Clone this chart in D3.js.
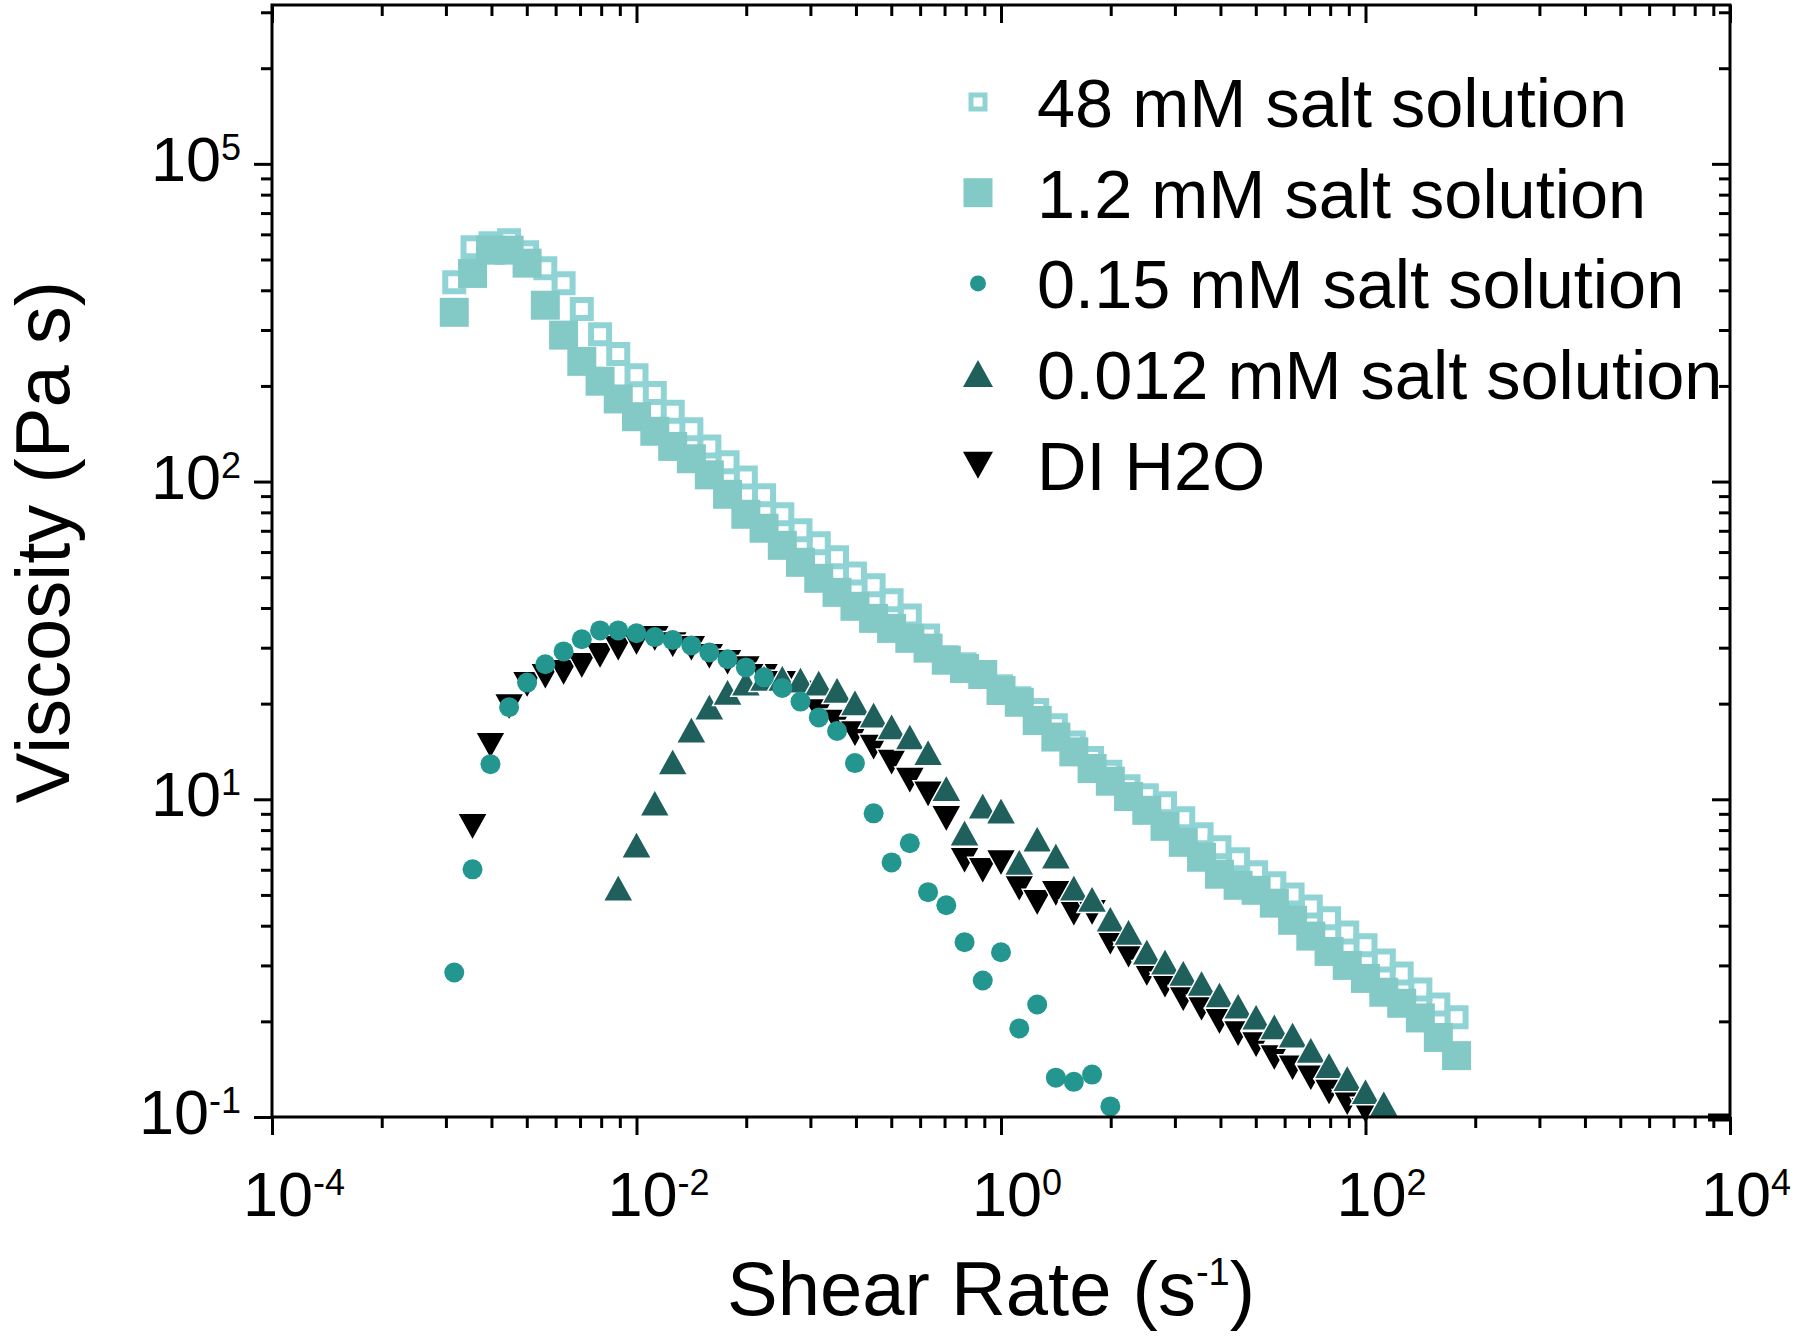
<!DOCTYPE html>
<html>
<head>
<meta charset="utf-8">
<script src="https://cdnjs.cloudflare.com/ajax/libs/d3/7.8.5/d3.min.js"></script>
<style>
  body { margin: 0; background: #fff; }
  text { font-family: "Liberation Sans", Arial, sans-serif; fill: #000; }
  .tick-label { font-family: "Liberation Sans Narrow", "Arial Narrow", "Liberation Sans", sans-serif; }
</style>
</head>
<body>
<div id="chart"></div>
<script>
// shear rate grid (s^-1), 10 points per decade
const shearRate = [
  0.001, 0.00126, 0.00158, 0.002, 0.00251, 0.00316, 0.00398, 0.00501, 0.00631, 0.00794,
  0.01, 0.0126, 0.0158, 0.02, 0.0251, 0.0316, 0.0398, 0.0501, 0.0631, 0.0794,
  0.1, 0.126, 0.158, 0.2, 0.251, 0.316, 0.398, 0.501, 0.631, 0.794,
  1, 1.26, 1.58, 2, 2.51, 3.16, 3.98, 5.01, 6.31, 7.94,
  10, 12.6, 15.8, 20, 25.1, 31.6, 39.8, 50.1, 63.1, 79.4,
  100, 126, 158, 200, 251, 316
];

const salt48 = [
  424, 546, 562, 575, 527, 469, 421, 349, 291, 252,
  216, 190, 166, 146, 129, 115, 103, 90.5, 78.9, 70.3,
  63.9, 57.8, 51.4, 47.2, 42.3, 37.9, 32.8, 28.0, 26.6, 24.4,
  22.7, 20.8, 19.1, 17.1, 15.1, 13.5, 12.2, 11.0, 10.3, 9.71,
  8.71, 7.76, 7.06, 6.47, 5.89, 5.44, 5.02, 4.60, 4.22, 3.81,
  3.47, 3.11, 2.83, 2.52, 2.26, 2.06
];

const salt1p2 = [
  341, 452, 535, 535, 487, 359, 289, 239, 207, 182,
  160, 144, 129, 118, 105, 91.2, 78.9, 71.3, 63.0, 55.7,
  49.6, 44.8, 40.5, 37.1, 34.5, 32.1, 29.9, 27.4, 25.8, 24.7,
  22.0, 20.2, 17.7, 15.7, 14.1, 12.5, 11.4, 10.2, 9.23, 8.22,
  7.32, 6.57, 5.81, 5.36, 5.17, 4.71, 4.16, 3.71, 3.32, 3.00,
  2.73, 2.47, 2.28, 2.05, 1.78, 1.56
];

const salt0p15 = [
  2.85, 6.02, 12.9, 19.5, 23.3, 26.6, 29.2, 31.9, 34.0, 34.0,
  33.3, 32.4, 31.7, 30.5, 29.0, 27.6, 26.0, 24.2, 22.4, 20.3,
  18.1, 16.4, 13.0, 9.03, 6.33, 7.27, 5.10, 4.64, 3.55, 2.69,
  3.30, 1.90, 2.26, 1.33, 1.29, 1.36, 1.08, null, null, null,
  null, null, null, null, null, null, null, null, null, null,
  null, null, null, null, null, null
];

const salt0p012 = [
  null, null, null, null, null, null, null, null, null, 5.25,
  7.17, 9.71, 13.1, 16.5, 19.5, 21.7, 23.2, 24.0, 24.0, 23.7,
  23.2, 22.0, 20.1, 18.4, 16.9, 15.7, 14.0, 10.8, 7.82, 9.51,
  9.17, 6.33, 7.48, 6.62, 5.25, 4.84, 4.19, 3.81, 3.30, 3.07,
  2.83, 2.63, 2.42, 2.23, 2.06, 1.92, 1.81, 1.62, 1.45, 1.32,
  1.20, 1.10, null, null, null, null
];

const diWater = [
  null, 8.22, 14.8, 19.6, 23.0, 24.4, 25.1, 26.4, 28.4, 29.9,
  31.2, 32.1, 30.7, 29.9, 28.2, 27.0, 25.8, 24.4, 23.2, 21.6,
  18.9, 17.5, 16.1, 14.6, 13.1, 11.5, 10.4, 8.71, 6.43, 5.98,
  6.33, 5.25, 4.74, 5.06, 4.38, 4.41, 3.55, 3.23, 2.83, 2.60,
  2.36, 2.20, 2.00, 1.83, 1.69, 1.54, 1.43, 1.33, 1.20, 1.11,
  1.05, null, null, null, null, null
];

const seriesNames = ["48 mM salt solution", "1.2 mM salt solution", "0.15 mM salt solution", "0.012 mM salt solution", "DI H2O"];

// axis ticks, labels as printed on the figure
const xTickValues = [1e-4, 1e-2, 1, 1e2, 1e4];
const xTickExp = ["-4", "-2", "0", "2", "4"];
const yTickValues = [1, 10, 100, 1000];
const yTickExp = ["-1", "1", "2", "5"];

const width = 1800, height = 1339;
const mLeft = 272, mRight = 1730, mTop = 5, mBottom = 1117;

const svg = d3.select("#chart").append("svg")
  .attr("width", width).attr("height", height);

const x = d3.scaleLog().domain([1e-4, 1e4]).range([mLeft, mRight]);
const y = d3.scaleLog().domain([1, Math.pow(10, 3.5)]).range([mBottom, mTop]);

// minor ticks: each labelled step is drawn as a single decade
const xMinor = [];
xTickValues.slice(0, -1).forEach(v => {
  for (let k = 2; k <= 9; k++) xMinor.push(v * k * k);
});
const yMinor = [];
[1, 10, 100, 1000].forEach(v => {
  for (let k = 2; k <= 9; k++) if (v * k <= y.domain()[1]) yMinor.push(v * k);
});

// ---- markers ----
const shapes = {
  openSquare: "M-9,-9H9V9H-9Z",
  square: "M-14.5,-14.5H14.5V14.5H-14.5Z",
  circle: d3.symbol(d3.symbolCircle, Math.PI * 100)(),
  triUp: "M0,-14L15,13L-15,13Z",
  triDown: "M0,14L15,-13L-15,-13Z"
};

const series = [
  { name: seriesNames[0], values: salt48, shape: "openSquare", fill: "none", stroke: "#8fd3d5", sw: 6 },
  { name: seriesNames[1], values: salt1p2, shape: "square", fill: "#83c9c6", stroke: "none", sw: 0 },
  { name: seriesNames[4], values: diWater, shape: "triDown", fill: "#000", stroke: "#fff", sw: 1.5 },
  { name: seriesNames[3], values: salt0p012, shape: "triUp", fill: "#1f5f5c", stroke: "#fff", sw: 1.5 },
  { name: seriesNames[2], values: salt0p15, shape: "circle", fill: "#22968f", stroke: "none", sw: 0 }
];

series.forEach(s => {
  const pts = shearRate.map((r, i) => ({ r: r, v: s.values[i] })).filter(d => d.v != null);
  svg.append("g").selectAll("path")
    .data(pts)
    .enter()
    .append("path")
    .attr("d", shapes[s.shape])
    .attr("transform", d => `translate(${x(d.r)},${y(d.v)})`)
    .attr("fill", s.fill)
    .attr("stroke", s.stroke)
    .attr("stroke-width", s.sw);
});

// ---- axes ----
function styleAxis(g) {
  g.select(".domain").remove();
  g.selectAll("line").attr("stroke", "#000").attr("stroke-width", 3);
  g.selectAll("text").remove();
}

const majorLen = 18, minorLen = 11;

svg.append("g").attr("transform", `translate(0,${mBottom})`)
  .call(d3.axisBottom(x).tickValues(xTickValues).tickSize(majorLen)).call(styleAxis);
svg.append("g").attr("transform", `translate(0,${mBottom})`)
  .call(d3.axisBottom(x).tickValues(xMinor).tickSize(minorLen)).call(styleAxis);
svg.append("g").attr("transform", `translate(0,${mTop})`)
  .call(d3.axisTop(x).tickValues(xTickValues).tickSize(-majorLen)).call(styleAxis);
svg.append("g").attr("transform", `translate(0,${mTop})`)
  .call(d3.axisTop(x).tickValues(xMinor).tickSize(-minorLen)).call(styleAxis);

svg.append("g").attr("transform", `translate(${mLeft},0)`)
  .call(d3.axisLeft(y).tickValues(yTickValues).tickSize(majorLen)).call(styleAxis);
svg.append("g").attr("transform", `translate(${mLeft},0)`)
  .call(d3.axisLeft(y).tickValues(yMinor).tickSize(minorLen)).call(styleAxis);
const rightMajor = svg.append("g").attr("transform", `translate(${mRight},0)`)
  .call(d3.axisRight(y).tickValues(yTickValues).tickSize(-majorLen)).call(styleAxis);
svg.append("g").attr("transform", `translate(${mRight},0)`)
  .call(d3.axisRight(y).tickValues(yMinor).tickSize(-minorLen)).call(styleAxis);
// the bottom right tick is printed heavier in the figure
rightMajor.selectAll(".tick").filter(d => d === 1).select("line")
  .attr("stroke-width", 8).attr("x2", -22);

svg.append("rect")
  .attr("x", mLeft).attr("y", mTop)
  .attr("width", mRight - mLeft).attr("height", mBottom - mTop)
  .attr("fill", "none").attr("stroke", "#000").attr("stroke-width", 3);

// tick labels
xTickValues.forEach((v, i) => {
  const t = svg.append("text").attr("class", "tick-label")
    .attr("x", x(v) - 29).attr("y", 1216)
    .style("font-size", "63px");
  t.append("tspan").text("10");
  t.append("tspan").attr("dy", -21).style("font-size", "36px").text(xTickExp[i]);
});

yTickValues.forEach((v, i) => {
  const t = svg.append("text").attr("class", "tick-label")
    .attr("x", 241).attr("y", y(v) + 17)
    .attr("text-anchor", "end")
    .style("font-size", "63px");
  t.append("tspan").text("10");
  t.append("tspan").attr("dy", -21).style("font-size", "36px").text(yTickExp[i]);
});

// axis titles
svg.append("text")
  .attr("transform", "translate(69,542) rotate(-90)")
  .attr("text-anchor", "middle")
  .style("font-size", "76px")
  .text("Viscosity (Pa s)");

const xt = svg.append("text")
  .attr("x", 991).attr("y", 1315)
  .attr("text-anchor", "middle")
  .style("font-size", "76px");
xt.append("tspan").text("Shear Rate (s");
xt.append("tspan").attr("dy", -30).style("font-size", "38px").text("-1");
xt.append("tspan").attr("dy", 30).text(")");

// ---- legend ----
const legendItems = [series[0], series[1], series[4], series[3], series[2]];
const legendShapes = {
  openSquare: "M-7,-7H7V7H-7Z",
  square: "M-14.5,-14.5H14.5V14.5H-14.5Z",
  circle: d3.symbol(d3.symbolCircle, Math.PI * 64)(),
  triUp: "M0,-14L15,13L-15,13Z",
  triDown: "M0,14L15,-13L-15,-13Z"
};

const legend = svg.append("g").selectAll("g")
  .data(legendItems)
  .enter()
  .append("g")
  .attr("transform", (d, i) => `translate(978,${102 + i * 90.7})`);

legend.append("path")
  .attr("d", d => legendShapes[d.shape])
  .attr("fill", d => d.fill)
  .attr("stroke", d => d.shape === "openSquare" ? d.stroke : "none")
  .attr("stroke-width", d => d.shape === "openSquare" ? 5 : 0);

legend.append("text")
  .attr("x", 59).attr("y", 25)
  .style("font-size", "68.5px")
  .text(d => d.name);
</script>
</body>
</html>
